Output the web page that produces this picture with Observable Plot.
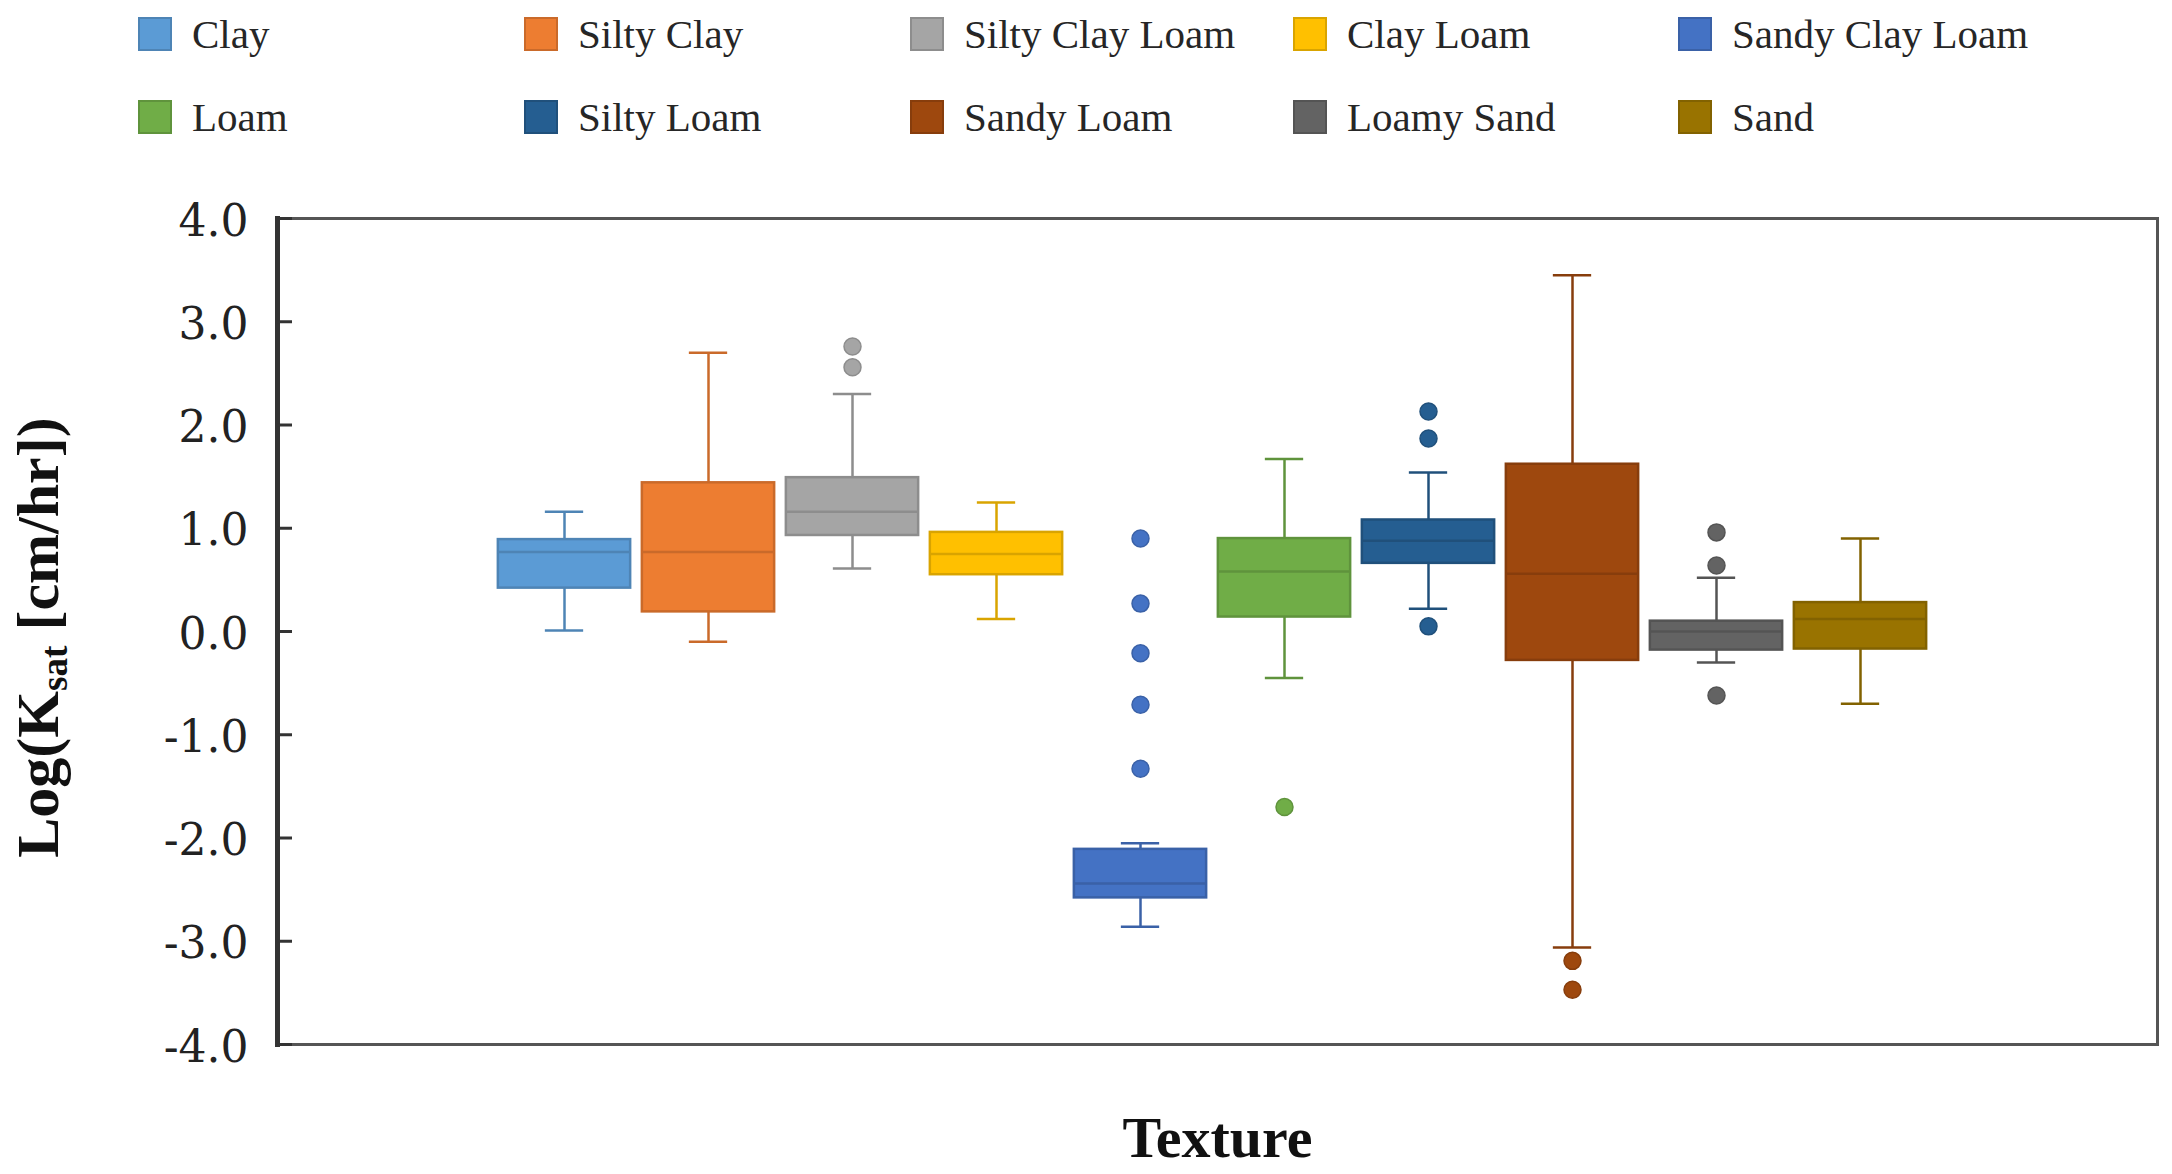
<!DOCTYPE html>
<html>
<head>
<meta charset="utf-8">
<script src="https://cdn.jsdelivr.net/npm/d3@7"></script>
<script src="https://cdn.jsdelivr.net/npm/@observablehq/plot@0.6"></script>
<style>
  html, body { margin: 0; padding: 0; background: #fff; overflow: hidden; }
  #legend { position: relative; width: 2172px; height: 150px; font-family: "Liberation Serif", serif; }
  .item { position: absolute; display: flex; align-items: center; height: 40px; }
  .sw { width: 34px; height: 34px; box-sizing: border-box; border: 2px solid; margin-right: 20px; }
  .lab { font-size: 41px; color: #262626; white-space: nowrap; }
  #chart svg { display: block; }
</style>
</head>
<body>
<div id="legend"></div>
<div id="chart"></div>
<script>
// ---- data ----
const categories = ["Clay", "Silty Clay", "Silty Clay Loam", "Clay Loam", "Sandy Clay Loam",
                    "Loam", "Silty Loam", "Sandy Loam", "Loamy Sand", "Sand"];
const colors = ["#5B9BD5", "#ED7D31", "#A5A5A5", "#FFC000", "#4472C4",
                "#70AD47", "#255E91", "#9E480E", "#636363", "#997300"];
const whiskerLow  = [0.01, -0.10, 0.61, 0.12, -2.86, -0.45, 0.22, -3.06, -0.30, -0.70];
const q1          = [0.42,  0.19, 0.93, 0.55, -2.58,  0.14, 0.66, -0.28, -0.18, -0.17];
const median      = [0.77,  0.77, 1.16, 0.75, -2.44,  0.58, 0.88,  0.56,  0.00,  0.12];
const q3          = [0.89,  1.44, 1.49, 0.96, -2.11,  0.90, 1.08,  1.62,  0.10,  0.28];
const whiskerHigh = [1.16,  2.70, 2.30, 1.25, -2.05,  1.67, 1.54,  3.45,  0.52,  0.90];
const outlierTexture = ["Silty Clay Loam", "Silty Clay Loam",
  "Sandy Clay Loam", "Sandy Clay Loam", "Sandy Clay Loam", "Sandy Clay Loam", "Sandy Clay Loam",
  "Loam", "Silty Loam", "Silty Loam", "Silty Loam", "Sandy Loam", "Sandy Loam",
  "Loamy Sand", "Loamy Sand", "Loamy Sand"];
const outlierValue = [2.76, 2.56, 0.90, 0.27, -0.21, -0.71, -1.33, -1.70,
  2.13, 1.87, 0.05, -3.19, -3.47, 0.96, 0.64, -0.62];
const yTicks = [-4, -3, -2, -1, 0, 1, 2, 3, 4];
const yLabelMain = "Log(K", yLabelSub = "sat", yLabelTail = " [cm/hr])";
const xLabel = "Texture";

// ---- derived tables ----
const fillOf = Object.fromEntries(categories.map((c, i) => [c, colors[i]]));
const strokeOf = Object.fromEntries(categories.map((c, i) => [c, d3.color(colors[i]).darker(0.45).formatHex()]));
const boxes = categories.map((c, i) => ({
  texture: c, lo: whiskerLow[i], q1: q1[i], median: median[i], q3: q3[i], hi: whiskerHigh[i]
}));
const outliers = outlierTexture.map((t, i) => ({texture: t, value: outlierValue[i]}));

// ---- legend ----
const legend = document.getElementById("legend");
const colX = [138, 524, 910, 1293, 1678];
const rowY = [14, 97];
categories.forEach((c, i) => {
  const it = document.createElement("div");
  it.className = "item";
  it.style.left = colX[i % 5] + "px";
  it.style.top = rowY[Math.floor(i / 5)] + "px";
  const sw = document.createElement("div");
  sw.className = "sw";
  sw.style.background = fillOf[c];
  sw.style.borderColor = strokeOf[c];
  const lab = document.createElement("span");
  lab.className = "lab";
  lab.textContent = c;
  it.appendChild(sw); it.appendChild(lab);
  legend.appendChild(it);
});

// ---- chart ----
const W = 2172, H = 1024;
const mL = 277, mR = 15, mT = 68, mB = 130;
const band = 144.7;
const xRange = [561 - band / 2, 561 + band * 9 + band / 2];
const boxInset = (band - 133) / 2;
const capInset = (band - 39) / 2;
const frameW = W - mL - mR;
const yLabelFull = yLabelMain + yLabelSub + yLabelTail;

const svg = Plot.plot({
  width: W, height: H,
  marginLeft: mL, marginRight: mR, marginTop: mT, marginBottom: mB,
  style: {fontFamily: "DejaVu Serif", background: "#fff", overflow: "visible"},
  x: {domain: categories, range: xRange, padding: 0, axis: null},
  y: {domain: [-4, 4], axis: null},
  color: {type: "identity"},
  marks: [
    // whiskers
    Plot.ruleX(boxes, {x: "texture", y1: "lo", y2: "hi", stroke: d => strokeOf[d.texture], strokeWidth: 2.5}),
    // boxes
    Plot.barY(boxes, {x: "texture", y1: "q1", y2: "q3", fill: d => fillOf[d.texture],
      stroke: d => strokeOf[d.texture], strokeWidth: 2.5, insetLeft: boxInset, insetRight: boxInset}),
    // medians
    Plot.tickY(boxes, {x: "texture", y: "median", stroke: d => strokeOf[d.texture], strokeWidth: 2.5,
      insetLeft: boxInset, insetRight: boxInset}),
    // caps
    Plot.tickY(boxes, {x: "texture", y: "lo", stroke: d => strokeOf[d.texture], strokeWidth: 2.5,
      insetLeft: capInset, insetRight: capInset}),
    Plot.tickY(boxes, {x: "texture", y: "hi", stroke: d => strokeOf[d.texture], strokeWidth: 2.5,
      insetLeft: capInset, insetRight: capInset}),
    // outliers
    Plot.dot(outliers, {x: "texture", y: "value", r: 8.5, fill: d => fillOf[d.texture],
      stroke: d => strokeOf[d.texture], strokeWidth: 1.5}),
    // frame
    Plot.frame({stroke: "#555", strokeWidth: 3}),
    Plot.frame({anchor: "left", stroke: "#333", strokeWidth: 5}),
    // inward y ticks
    Plot.ruleY(yTicks, {y: d => d, stroke: "#333", strokeWidth: 3, insetLeft: 0, insetRight: frameW - 15}),
    // y tick labels
    Plot.text(yTicks, {y: d => d, frameAnchor: "left", text: d => d.toFixed(1), textAnchor: "end",
      dx: -29, dy: 3, fontSize: 44, fill: "#222"}),
    // y label
    Plot.text([yLabelFull], {frameAnchor: "left", textAnchor: "middle", lineAnchor: "middle", rotate: -90,
      dx: -239, dy: 6, fontSize: 60, fontWeight: "bold", fontFamily: "Liberation Serif", fill: "#111"}),
    // x label
    Plot.text([xLabel], {frameAnchor: "bottom", textAnchor: "middle", lineAnchor: "middle", dy: 94,
      fontSize: 58, fontWeight: "bold", fontFamily: "Liberation Serif", fill: "#111"})
  ]
});

// add subscript to y label
d3.select(svg).selectAll("text").filter(function() { return this.textContent === yLabelFull; })
  .each(function() {
    const t = d3.select(this);
    t.text(null);
    t.append("tspan").text(yLabelMain);
    t.append("tspan").attr("font-size", "0.62em").attr("dy", "0.25em").text(yLabelSub);
    t.append("tspan").attr("dy", "-0.155em").text(yLabelTail);
  });

document.getElementById("chart").appendChild(svg);
</script>
</body>
</html>
